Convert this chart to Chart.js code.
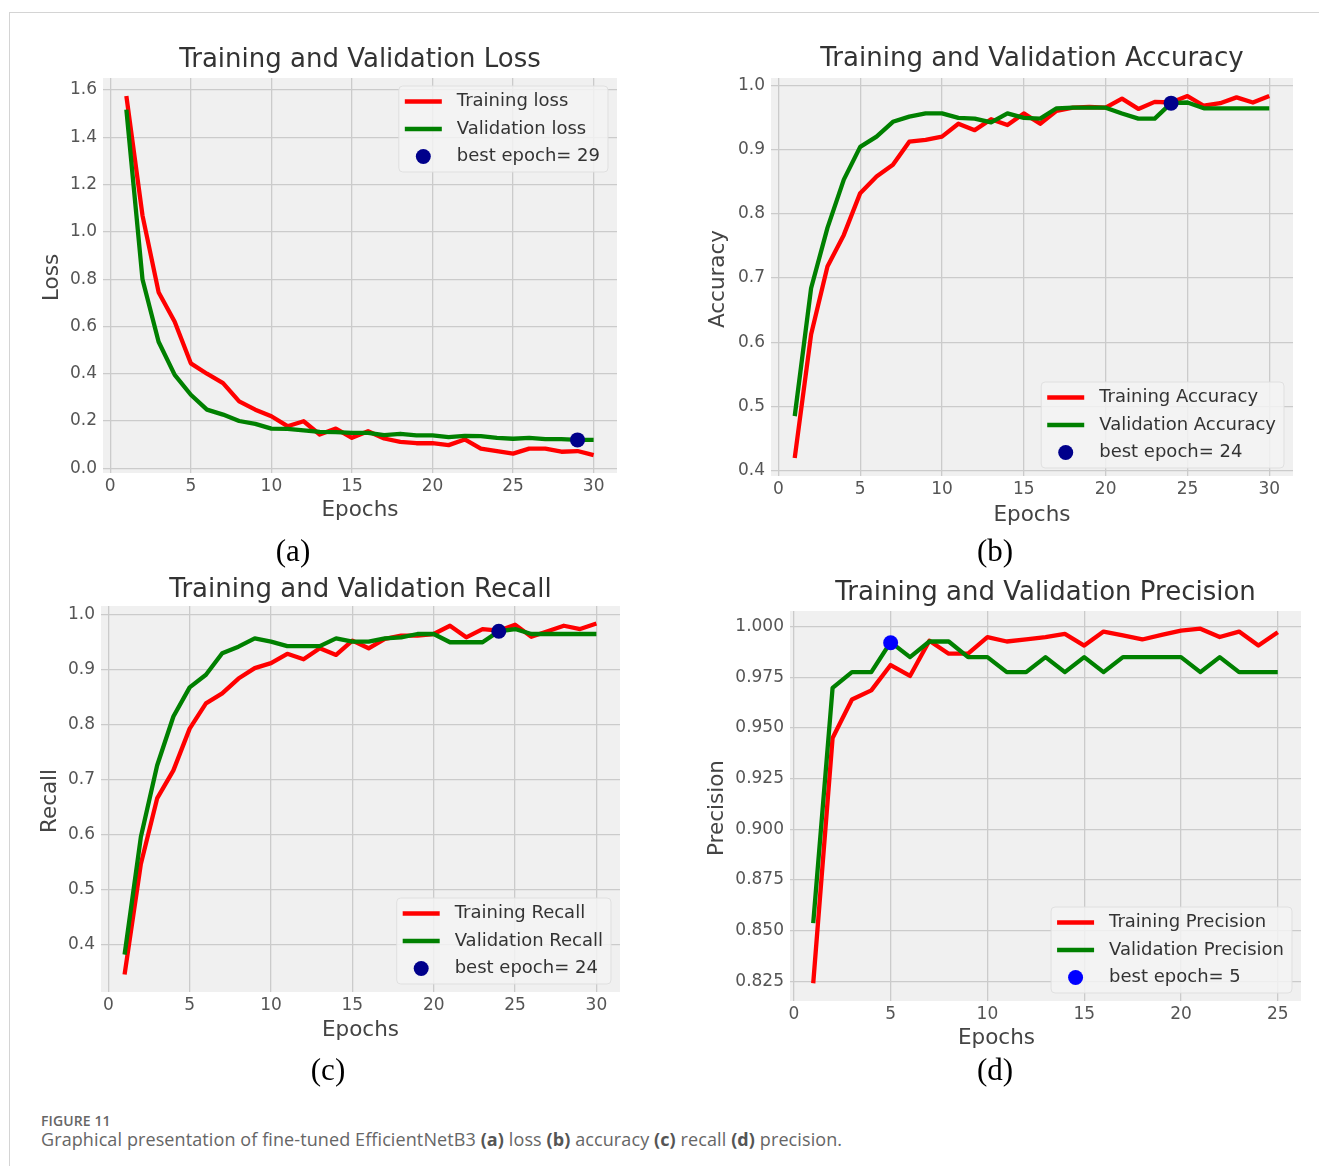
<!DOCTYPE html>
<html>
<head>
<meta charset="utf-8">
<script src="https://cdn.jsdelivr.net/npm/chart.js@4.4.1/dist/chart.umd.min.js"></script>
<style>
  html, body { margin: 0; padding: 0; background: #fff; }
  body { width: 1319px; height: 1166px; position: relative; overflow: hidden; }
  canvas { position: absolute; }
  .frame { position: absolute; left: 9px; top: 12px; right: 0; bottom: 0;
           border-top: 1px solid #d4d4d4; border-left: 1px solid #d4d4d4; }
  .tag { position: absolute; font-family: "Liberation Serif", serif; font-size: 31px; color: #000;
         transform: translate(-50%, -50%); }
  .cap1 { position: absolute; left: 41px; top: 1111px; font-family: "Open Sans", sans-serif;
          font-size: 14px; font-weight: 600; color: #666; letter-spacing: 0.1px; }
  .cap2 { position: absolute; left: 41px; top: 1127px; font-family: "Open Sans", sans-serif;
          font-size: 18px; color: #666; letter-spacing: 0.1px; }
  .cap2 b { font-weight: 700; color: #555; }
</style>
</head>
<body>
<div class="frame"></div>
<canvas id="lossChart"></canvas>
<canvas id="accChart"></canvas>
<canvas id="recChart"></canvas>
<canvas id="precChart"></canvas>
<div class="tag" style="left:293px; top:551px">(a)</div>
<div class="tag" style="left:995px; top:551px">(b)</div>
<div class="tag" style="left:328px; top:1070px">(c)</div>
<div class="tag" style="left:995px; top:1070px">(d)</div>
<div class="cap1">FIGURE 11</div>
<div class="cap2">Graphical presentation of fine-tuned EfficientNetB3 <b>(a)</b> loss <b>(b)</b> accuracy <b>(c)</b> recall <b>(d)</b> precision.</div>

<script>
// epochs
const epochs30 = [1, 2, 3, 4, 5, 6, 7, 8, 9, 10, 11, 12, 13, 14, 15, 16, 17, 18, 19, 20, 21, 22, 23, 24, 25, 26, 27, 28, 29, 30];
const epochs25 = [1, 2, 3, 4, 5, 6, 7, 8, 9, 10, 11, 12, 13, 14, 15, 16, 17, 18, 19, 20, 21, 22, 23, 24, 25];

// (a) loss
const lossTrain = [1.575, 1.07, 0.745, 0.62, 0.444, 0.40, 0.36, 0.283, 0.248, 0.22, 0.178, 0.199, 0.143, 0.168, 0.129,
                   0.157, 0.126, 0.112, 0.106, 0.106, 0.098, 0.122, 0.083, 0.073, 0.062, 0.083, 0.083, 0.07, 0.073, 0.056];
const lossVal = [1.517, 0.80, 0.535, 0.395, 0.311, 0.248, 0.227, 0.20, 0.188, 0.168, 0.167, 0.16, 0.154, 0.153, 0.15,
                 0.15, 0.14, 0.146, 0.139, 0.139, 0.132, 0.137, 0.136, 0.129, 0.125, 0.129, 0.123, 0.123, 0.12, 0.12];
const lossBest = [29, 0.12];

// (b) accuracy
const accTrain = [0.42, 0.612, 0.718, 0.767, 0.832, 0.858, 0.876, 0.912, 0.915, 0.92, 0.94, 0.93, 0.947, 0.938, 0.956,
                  0.94, 0.96, 0.965, 0.966, 0.965, 0.979, 0.963, 0.974, 0.973, 0.983, 0.968, 0.972, 0.981, 0.973, 0.983];
const accVal = [0.485, 0.684, 0.778, 0.853, 0.904, 0.92, 0.943, 0.951, 0.956, 0.956, 0.949, 0.948, 0.942, 0.956, 0.949,
                0.948, 0.964, 0.965, 0.965, 0.965, 0.956, 0.948, 0.948, 0.972, 0.973, 0.964, 0.964, 0.964, 0.964, 0.964];
const accBest = [24, 0.972];

// (c) recall
const recTrain = [0.346, 0.547, 0.666, 0.717, 0.793, 0.839, 0.857, 0.884, 0.903, 0.912, 0.929, 0.919, 0.939, 0.927, 0.953,
                  0.939, 0.956, 0.962, 0.962, 0.965, 0.98, 0.959, 0.974, 0.971, 0.982, 0.96, 0.97, 0.98, 0.974, 0.984];
const recVal = [0.382, 0.596, 0.726, 0.815, 0.868, 0.891, 0.93, 0.942, 0.957, 0.951, 0.943, 0.943, 0.943, 0.957, 0.951,
                0.951, 0.957, 0.959, 0.965, 0.965, 0.95, 0.95, 0.95, 0.97, 0.974, 0.965, 0.965, 0.965, 0.965, 0.965];
const recBest = [24, 0.97];

// (d) precision
const precTrain = [0.824, 0.945, 0.964, 0.9685, 0.981, 0.9756, 0.993, 0.9866, 0.9866, 0.9948, 0.9926, 0.9936, 0.9948,
                   0.9964, 0.9906, 0.9975, 0.9956, 0.9936, 0.9959, 0.998, 0.9989, 0.9948, 0.9975, 0.9906, 0.9972];
const precVal = [0.8537, 0.9697, 0.9775, 0.9775, 0.9923, 0.9849, 0.9926, 0.9926, 0.9849, 0.9849, 0.9775, 0.9775, 0.9849,
                 0.9775, 0.9849, 0.9775, 0.9849, 0.9849, 0.9849, 0.9849, 0.9775, 0.9849, 0.9775, 0.9775, 0.9775];
const precBest = [5, 0.992];

// tick labels
const xTicks30 = ['0', '5', '10', '15', '20', '25', '30'];
const xTicks25 = ['0', '5', '10', '15', '20', '25'];
const lossYTicks = ['0.0', '0.2', '0.4', '0.6', '0.8', '1.0', '1.2', '1.4', '1.6'];
const accYTicks = ['0.4', '0.5', '0.6', '0.7', '0.8', '0.9', '1.0'];
const recYTicks = ['0.4', '0.5', '0.6', '0.7', '0.8', '0.9', '1.0'];
const precYTicks = ['0.825', '0.850', '0.875', '0.900', '0.925', '0.950', '0.975', '1.000'];

const FONT = '"DejaVu Sans", sans-serif';
Chart.defaults.font.family = FONT;

// plot background like matplotlib fivethirtyeight
const plotBg = {
    id: 'plotBg',
    beforeDraw(chart) {
        const {ctx, chartArea: a} = chart;
        ctx.save();
        ctx.fillStyle = '#f0f0f0';
        ctx.fillRect(a.left, a.top, a.right - a.left, a.bottom - a.top);
        ctx.restore();
    }
};

// title and axis labels
const panelText = {
    id: 'panelText',
    afterDraw(chart, args, o) {
        const {ctx, chartArea: a} = chart;
        const cx = (a.left + a.right) / 2;
        ctx.save();
        ctx.textAlign = 'center';
        ctx.textBaseline = 'middle';
        ctx.fillStyle = '#333';
        ctx.font = '26px ' + FONT;
        ctx.fillText(o.title, cx, a.top - o.titleGap);
        ctx.fillStyle = '#444';
        ctx.font = '21.5px ' + FONT;
        ctx.fillText('Epochs', cx + o.xShift, a.bottom + o.xGap);
        ctx.translate(a.left - o.yGap, (a.top + a.bottom) / 2 + 2);
        ctx.rotate(-Math.PI / 2);
        ctx.fillText(o.yLabel, 0, 0);
        ctx.restore();
    }
};

// legend drawn inside the axes
const innerLegend = {
    id: 'innerLegend',
    afterDatasetsDraw(chart, args, o) {
        const {ctx, chartArea: a} = chart;
        const items = chart.data.datasets;
        ctx.save();
        ctx.font = '18px ' + FONT;
        const textW = Math.max(...items.map(d => ctx.measureText(d.label).width));
        const w = 6 + 37 + 15 + textW + 8;
        const h = 86;
        const x = a.right - 9 - w;
        const y = o.top ? a.top + 8 : a.bottom - 8 - h;
        ctx.beginPath();
        if (ctx.roundRect) ctx.roundRect(x, y, w, h, 4); else ctx.rect(x, y, w, h);
        ctx.fillStyle = 'rgba(243,243,243,0.85)';
        ctx.fill();
        ctx.strokeStyle = 'rgba(222,222,222,0.9)';
        ctx.lineWidth = 1;
        ctx.stroke();
        items.forEach((d, i) => {
            const cy = y + 15.5 + i * 27.5;
            if (d.showLine === false) {
                ctx.beginPath();
                ctx.arc(x + 24.5, cy, 7.5, 0, Math.PI * 2);
                ctx.fillStyle = d.pointBackgroundColor;
                ctx.fill();
            } else {
                ctx.beginPath();
                ctx.moveTo(x + 6, cy);
                ctx.lineTo(x + 43, cy);
                ctx.strokeStyle = d.borderColor;
                ctx.lineWidth = 4.5;
                ctx.stroke();
            }
            ctx.fillStyle = '#333';
            ctx.textAlign = 'left';
            ctx.textBaseline = 'middle';
            ctx.fillText(d.label, x + 58, cy);
        });
        ctx.restore();
    }
};

function points(epochs, values) {
    return epochs.map((e, i) => ({x: e, y: values[i]}));
}

function pickLabel(labels) {
    return v => {
        const t = labels.find(l => Math.abs(parseFloat(l) - v) < 1e-9);
        return t === undefined ? '' : t;
    };
}

function makePanel(id, p) {
    const padL = 95, padT = 60, padR = 10, padB = 75;
    const r = p.rect;
    const w = r.r - r.l + padL + padR;
    const h = r.b - r.t + padT + padB;
    const canvas = document.getElementById(id);
    canvas.width = w;
    canvas.height = h;
    canvas.style.width = w + 'px';
    canvas.style.height = h + 'px';
    canvas.style.left = (r.l - padL) + 'px';
    canvas.style.top = (r.t - padT) + 'px';

    const n = p.epochs.length;
    const all = p.train.concat(p.val, [p.best[1]]);
    const lo = Math.min(...all), hi = Math.max(...all);
    const my = (hi - lo) * 0.05, mx = (n - 1) * 0.05;

    return new Chart(canvas, {
        type: 'line',
        data: {
            datasets: [{
                label: p.labels[0],
                data: points(p.epochs, p.train),
                borderColor: '#ff0000',
                borderWidth: 4.3,
                pointRadius: 0,
                tension: 0,
                borderJoinStyle: 'round',
                order: 2
            }, {
                label: p.labels[1],
                data: points(p.epochs, p.val),
                borderColor: '#008000',
                borderWidth: 4.3,
                pointRadius: 0,
                tension: 0,
                borderJoinStyle: 'round',
                order: 1
            }, {
                label: 'best epoch= ' + p.best[0],
                data: [{x: p.best[0], y: p.best[1]}],
                showLine: false,
                pointRadius: 7.5,
                pointBorderWidth: 0,
                pointBackgroundColor: p.dotColor,
                pointBorderColor: p.dotColor,
                order: 0
            }]
        },
        options: {
            responsive: false,
            animation: false,
            events: [],
            layout: {padding: {left: 0, top: padT, right: padR, bottom: 0}},
            scales: {
                x: {
                    type: 'linear',
                    bounds: 'data',
                    min: 1 - mx,
                    max: n + mx,
                    afterFit: s => { s.height = padB; },
                    afterBuildTicks: s => { s.ticks = p.xTicks.map(t => ({value: parseFloat(t)})); },
                    grid: {color: '#cbcbcb', lineWidth: 1.3, drawTicks: false},
                    border: {display: false},
                    ticks: {font: {size: 17}, color: '#555', padding: 3, autoSkip: false, maxRotation: 0,
                            callback: pickLabel(p.xTicks)}
                },
                y: {
                    type: 'linear',
                    bounds: 'data',
                    min: lo - my,
                    max: hi + my,
                    afterFit: s => { s.width = padL; },
                    afterBuildTicks: s => { s.ticks = p.yTicks.map(t => ({value: parseFloat(t)})); },
                    grid: {color: '#cbcbcb', lineWidth: 1.3, drawTicks: false},
                    border: {display: false},
                    ticks: {font: {size: 17}, color: '#555', padding: 6, autoSkip: false,
                            callback: pickLabel(p.yTicks)}
                }
            },
            plugins: {
                legend: {display: false},
                tooltip: {enabled: false},
                panelText: p.text,
                innerLegend: {top: p.legendTop}
            }
        },
        plugins: [plotBg, panelText, innerLegend]
    });
}

makePanel('lossChart', {
    rect: {l: 103, r: 617, t: 78, b: 473},
    epochs: epochs30, train: lossTrain, val: lossVal, best: lossBest, dotColor: '#00008b',
    labels: ['Training loss', 'Validation loss'],
    xTicks: xTicks30, yTicks: lossYTicks, legendTop: true,
    text: {title: 'Training and Validation Loss', yLabel: 'Loss', titleGap: 18, xGap: 37, xShift: 0, yGap: 51}
});

makePanel('accChart', {
    rect: {l: 771, r: 1293, t: 78, b: 476},
    epochs: epochs30, train: accTrain, val: accVal, best: accBest, dotColor: '#00008b',
    labels: ['Training Accuracy', 'Validation Accuracy'],
    xTicks: xTicks30, yTicks: accYTicks, legendTop: false,
    text: {title: 'Training and Validation Accuracy', yLabel: 'Accuracy', titleGap: 19, xGap: 39, xShift: 0, yGap: 53}
});

makePanel('recChart', {
    rect: {l: 101, r: 620, t: 606, b: 992},
    epochs: epochs30, train: recTrain, val: recVal, best: recBest, dotColor: '#00008b',
    labels: ['Training Recall', 'Validation Recall'],
    xTicks: xTicks30, yTicks: recYTicks, legendTop: false,
    text: {title: 'Training and Validation Recall', yLabel: 'Recall', titleGap: 16, xGap: 38, xShift: 0, yGap: 51}
});

makePanel('precChart', {
    rect: {l: 790, r: 1301, t: 611, b: 1001},
    epochs: epochs25, train: precTrain, val: precVal, best: precBest, dotColor: '#0000ff',
    labels: ['Training Precision', 'Validation Precision'],
    xTicks: xTicks25, yTicks: precYTicks, legendTop: false,
    text: {title: 'Training and Validation Precision', yLabel: 'Precision', titleGap: 18, xGap: 37, xShift: -49, yGap: 73}
});
</script>
</body>
</html>
